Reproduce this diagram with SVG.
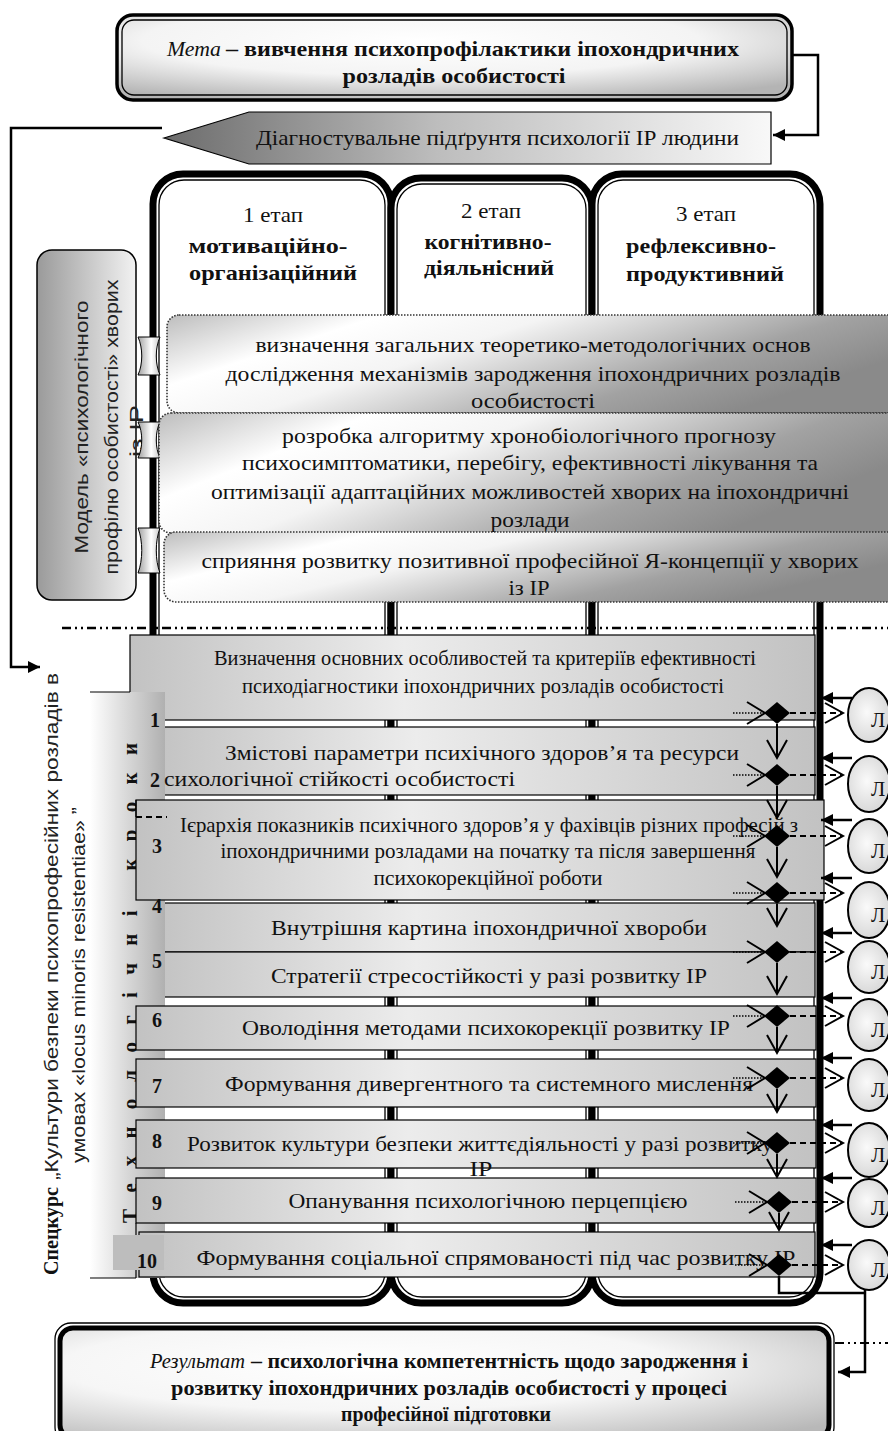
<svg xmlns="http://www.w3.org/2000/svg" width="888" height="1431" viewBox="0 0 888 1431">
<defs>
<style>
.t{font-family:"Liberation Serif","Times New Roman",serif;font-size:21px;fill:#111}
.b{font-weight:bold}
.i{font-style:italic}
.c{text-anchor:middle}
.s{font-family:"Liberation Sans",Arial,sans-serif;font-size:19px;fill:#222}
.num{font-family:"Liberation Serif","Times New Roman",serif;font-weight:bold;font-size:20px;fill:#111}
.ln{stroke:#000;stroke-width:2.5;fill:none}
.thin{stroke:#000;stroke-width:1.2;fill:none}
.dash{stroke:#000;stroke-width:2;stroke-dasharray:6 4;fill:none}
.dot{stroke:#000;stroke-width:1.6;stroke-dasharray:1.5 1.5;fill:none}
.open{stroke:#000;stroke-width:2;fill:none}
.dia{fill:#000}
.row{fill:url(#gRow);stroke:#000;stroke-width:1.2}
.col{fill:#fff;stroke:#000;stroke-width:7}
.coli{fill:none;stroke:#000;stroke-width:1.3}
.circ{fill:url(#gCirc);stroke:#000;stroke-width:2}
.dbox{fill:url(#gBox);stroke:#333;stroke-width:1.6;stroke-dasharray:1.5 1.5}
.tab{fill:url(#gTab);stroke:#000;stroke-width:1}
</style>
<radialGradient id="gMeta" cx="0.45" cy="0.3" r="0.75">
<stop offset="0" stop-color="#ffffff"/><stop offset="0.55" stop-color="#f4f4f4"/><stop offset="1" stop-color="#b4b4b4"/>
</radialGradient>
<linearGradient id="gArrow" x1="0" y1="0" x2="1" y2="0">
<stop offset="0" stop-color="#6c6c6c"/><stop offset="0.45" stop-color="#bdbdbd"/><stop offset="1" stop-color="#f8f8f8"/>
</linearGradient>
<linearGradient id="gModel" x1="0" y1="0" x2="1" y2="0">
<stop offset="0" stop-color="#9a9a9a"/><stop offset="1" stop-color="#f2f2f2"/>
</linearGradient>
<linearGradient id="gTab" x1="0" y1="0" x2="1" y2="0">
<stop offset="0" stop-color="#a0a0a0"/><stop offset="0.6" stop-color="#ffffff"/><stop offset="1" stop-color="#c8c8c8"/>
</linearGradient>
<linearGradient id="gBox" x1="0" y1="0" x2="1" y2="0.4">
<stop offset="0" stop-color="#bdbdbd"/><stop offset="0.25" stop-color="#ffffff"/><stop offset="0.45" stop-color="#f4f4f4"/><stop offset="0.8" stop-color="#a2a2a2"/><stop offset="1" stop-color="#8a8a8a"/>
</linearGradient>
<linearGradient id="gRow" x1="0" y1="0" x2="1" y2="0">
<stop offset="0" stop-color="#c2c2c2"/><stop offset="0.4" stop-color="#ececec"/><stop offset="1" stop-color="#c2c2c2"/>
</linearGradient>
<linearGradient id="gBand" x1="0" y1="0" x2="1" y2="0">
<stop offset="0" stop-color="#ffffff"/><stop offset="1" stop-color="#b0b0b0"/>
</linearGradient>
<radialGradient id="gCirc" cx="0.45" cy="0.45" r="0.6">
<stop offset="0" stop-color="#fafafa"/><stop offset="1" stop-color="#d6d6d6"/>
</radialGradient>
<radialGradient id="gRes" cx="0.4" cy="0.35" r="0.8">
<stop offset="0" stop-color="#ffffff"/><stop offset="0.5" stop-color="#f6f6f6"/><stop offset="1" stop-color="#b8b8b8"/>
</radialGradient>
<marker id="arr" viewBox="0 0 10 10" refX="10" refY="5" markerWidth="14" markerHeight="12" markerUnits="userSpaceOnUse" orient="auto">
<path d="M0,0 L10,5 L0,10 Z" fill="#000"/>
</marker>
</defs>

<rect width="888" height="1431" fill="#fff"/>

<g id="stages">
<rect class="col" x="153" y="174" width="238" height="1129" rx="30"/>
<rect class="coli" x="159" y="180" width="226" height="1117" rx="25"/>
<rect class="col" x="391" y="178" width="201" height="1125" rx="30"/>
<rect class="coli" x="397" y="184" width="189" height="1113" rx="25"/>
<rect class="col" x="592" y="174" width="228" height="1129" rx="30"/>
<rect class="coli" x="598" y="180" width="216" height="1117" rx="25"/>
<text class="t c" x="273" y="222" textLength="60" lengthAdjust="spacingAndGlyphs">1 етап</text>
<text class="t b c" x="268" y="253" textLength="159" lengthAdjust="spacingAndGlyphs">мотиваційно-</text>
<text class="t b c" x="273" y="280" textLength="168" lengthAdjust="spacingAndGlyphs">організаційний</text>
<text class="t c" x="491" y="218" textLength="60" lengthAdjust="spacingAndGlyphs">2 етап</text>
<text class="t b c" x="488" y="249" textLength="127" lengthAdjust="spacingAndGlyphs">когнітивно-</text>
<text class="t b c" x="489" y="275" textLength="130" lengthAdjust="spacingAndGlyphs">діяльнісний</text>
<text class="t c" x="706" y="221" textLength="60" lengthAdjust="spacingAndGlyphs">3 етап</text>
<text class="t b c" x="701" y="253" textLength="150" lengthAdjust="spacingAndGlyphs">рефлексивно-</text>
<text class="t b c" x="705" y="281" textLength="158" lengthAdjust="spacingAndGlyphs">продуктивний</text>
</g>

<g id="goal">
<rect x="117" y="15" width="675" height="85" rx="16" fill="url(#gMeta)" stroke="#000" stroke-width="3.5"/>
<rect x="122" y="20" width="665" height="75" rx="12" fill="none" stroke="#000" stroke-width="1.3"/>
<text class="t i" x="167" y="56" textLength="54" lengthAdjust="spacingAndGlyphs">Мета</text>
<text class="t b" x="226" y="56" textLength="513" lengthAdjust="spacingAndGlyphs">– вивчення психопрофілактики іпохондричних</text>
<text class="t b c" x="454" y="83" textLength="223" lengthAdjust="spacingAndGlyphs">розладів особистості</text>
</g>

<g id="basis">
<polygon points="164,138 249,112 771,112 771,164 249,164" fill="url(#gArrow)" stroke="#000" stroke-width="1.2"/>
<text class="t" x="256" y="145" textLength="483" lengthAdjust="spacingAndGlyphs">Діагностувальне підґрунтя психології ІР людини</text>
</g>

<g id="model">
<rect x="37" y="250" width="99" height="350" rx="15" fill="url(#gModel)" stroke="#000" stroke-width="1.5"/>
<text class="s c" transform="translate(88,427) rotate(-90)" textLength="253" lengthAdjust="spacingAndGlyphs">Модель «психологічного</text>
<text class="s c" transform="translate(118,427) rotate(-90)" textLength="295" lengthAdjust="spacingAndGlyphs">профілю особистості» хворих</text>
<text class="s c" transform="translate(143,431) rotate(-90)" textLength="52" lengthAdjust="spacingAndGlyphs">із ІР</text>
<path class="tab" d="M138,337 H160 C155,348 155,364 160,375 H138 C143,364 143,348 138,337 Z"/>
<path class="tab" d="M138,422 H160 C155,432 155,448 160,458 H138 C143,448 143,432 138,422 Z"/>
<path class="tab" d="M138,528 H160 C155,541 155,560 160,573 H138 C143,560 143,541 138,528 Z"/>
</g>

<g id="task1">
<rect class="dbox" x="167" y="315" width="740" height="98" rx="12"/>
<text class="t c" x="533" y="352" textLength="555" lengthAdjust="spacingAndGlyphs">визначення загальних теоретико-методологічних основ</text>
<text class="t c" x="533" y="381" textLength="615" lengthAdjust="spacingAndGlyphs">дослідження механізмів зародження іпохондричних розладів</text>
<text class="t c" x="533" y="408" textLength="124" lengthAdjust="spacingAndGlyphs">особистості</text>
</g>
<g id="task2">
<rect class="dbox" x="159" y="413" width="740" height="120" rx="12"/>
<text class="t c" x="529" y="443" textLength="494" lengthAdjust="spacingAndGlyphs">розробка алгоритму хронобіологічного прогнозу</text>
<text class="t c" x="530" y="470" textLength="576" lengthAdjust="spacingAndGlyphs">психосимптоматики, перебігу, ефективності лікування та</text>
<text class="t c" x="530" y="499" textLength="638" lengthAdjust="spacingAndGlyphs">оптимізації адаптаційних можливостей хворих на іпохондричні</text>
<text class="t c" x="530" y="527" textLength="79" lengthAdjust="spacingAndGlyphs">розлади</text>
</g>
<g id="task3">
<rect class="dbox" x="164" y="532" width="740" height="70" rx="12"/>
<text class="t c" x="530" y="568" textLength="657" lengthAdjust="spacingAndGlyphs">сприяння розвитку позитивної професійної Я-концепції у хворих</text>
<text class="t c" x="529" y="595" textLength="41" lengthAdjust="spacingAndGlyphs">із ІР</text>
</g>

<g id="divider">
<line x1="62" y1="628" x2="888" y2="628" stroke="#000" stroke-width="2.5" stroke-dasharray="9 4 2 4 2 4"/>
<line x1="835" y1="1343" x2="888" y2="1343" stroke="#000" stroke-width="2" stroke-dasharray="9 4 2 4 2 4"/>
</g>

<g id="step1">
<rect class="row" x="130" y="635" width="685" height="85"/>
<text class="t c" x="485" y="665" textLength="542" lengthAdjust="spacingAndGlyphs">Визначення основних особливостей та критеріїв ефективності</text>
<text class="t c" x="483" y="693" textLength="482" lengthAdjust="spacingAndGlyphs">психодіагностики іпохондричних розладів особистості</text>
</g>
<g id="step2">
<rect class="row" x="150" y="727" width="665" height="68"/>
<text class="t c" x="482" y="760" textLength="514" lengthAdjust="spacingAndGlyphs">Змістові параметри психічного здоров’я та ресурси</text>
</g>
<g id="step4">
<rect class="row" x="150" y="903" width="665" height="49"/>
<text class="t c" x="489" y="935" textLength="436" lengthAdjust="spacingAndGlyphs">Внутрішня картина іпохондричної хвороби</text>
</g>
<g id="step5">
<rect class="row" x="150" y="952" width="665" height="45"/>
<text class="t c" x="489" y="983" textLength="436" lengthAdjust="spacingAndGlyphs">Стратегії стресостійкості у разі розвитку ІР</text>
</g>

<g id="steps-band">
<rect x="90" y="692" width="75" height="586" fill="url(#gBand)"/>
<line class="thin" x1="90" y1="692" x2="130" y2="692"/>
<line class="thin" x1="90" y1="1278" x2="136" y2="1278"/>
<line class="thin" x1="136" y1="1223" x2="136" y2="1278"/>
<text class="t b" transform="translate(137,1223) rotate(-90)" font-size="19" textLength="480" lengthAdjust="spacing">Технологічні кроки</text>
</g>

<g id="step2b">
<text class="t" x="164" y="786" textLength="351" lengthAdjust="spacingAndGlyphs">сихологічної стійкості особистості</text>
</g>
<g id="step3">
<rect class="row" x="136" y="800" width="688" height="100"/>
<path class="thin" d="M136,800 V817"/>
<path class="dash" d="M136,817 H167" stroke-width="1.5"/>
<text class="t" x="180" y="832" textLength="618" lengthAdjust="spacingAndGlyphs">Ієрархія показників психічного здоров’я у фахівців різних професій з</text>
<text class="t c" x="488" y="858" textLength="535" lengthAdjust="spacingAndGlyphs">іпохондричними розладами на початку та після завершення</text>
<text class="t c" x="488" y="885" textLength="229" lengthAdjust="spacingAndGlyphs">психокорекційної роботи</text>
</g>
<g id="step6">
<rect class="row" x="136" y="1006" width="680" height="44"/>
<text class="t c" x="486" y="1035" textLength="488" lengthAdjust="spacingAndGlyphs">Оволодіння методами психокорекції розвитку ІР</text>
</g>
<g id="step7">
<rect class="row" x="136" y="1059" width="680" height="48"/>
<text class="t c" x="489" y="1091" textLength="528" lengthAdjust="spacingAndGlyphs">Формування дивергентного та системного мислення</text>
</g>
<g id="step8">
<rect class="row" x="136" y="1120" width="680" height="48"/>
<text class="t c" x="480" y="1151" textLength="586" lengthAdjust="spacingAndGlyphs">Розвиток культури безпеки життєдіяльності у разі розвитку</text>
<text class="t c" x="481" y="1176" textLength="23" lengthAdjust="spacingAndGlyphs">ІР</text>
</g>
<g id="step9">
<rect class="row" x="136" y="1178" width="680" height="45"/>
<text class="t c" x="488" y="1208" textLength="399" lengthAdjust="spacingAndGlyphs">Опанування психологічною перцепцією</text>
</g>
<g id="step10">
<rect class="row" x="139" y="1232" width="676" height="45"/>
<rect x="113" y="1235" width="51" height="35" fill="#bdbdbd"/>
<text class="t c" x="496" y="1265" textLength="599" lengthAdjust="spacingAndGlyphs">Формування соціальної спрямованості під час розвитку ІР</text>
</g>

<g id="step-numbers">
<text class="num" x="150" y="727">1</text>
<text class="num" x="150" y="787">2</text>
<text class="num" x="152" y="853">3</text>
<text class="num" x="152" y="913">4</text>
<text class="num" x="152" y="968">5</text>
<text class="num" x="152" y="1027">6</text>
<text class="num" x="152" y="1093">7</text>
<text class="num" x="152" y="1148">8</text>
<text class="num" x="152" y="1210">9</text>
<text class="num" x="137" y="1268">10</text>
</g>

<g id="course">
<text class="t b" transform="translate(58,1275) rotate(-90)" textLength="88" lengthAdjust="spacingAndGlyphs">Спецкурс</text>
<text class="s" transform="translate(58,1180) rotate(-90)" textLength="507" lengthAdjust="spacingAndGlyphs">„Культури безпеки психопрофесійних розладів в</text>
<text class="s" transform="translate(85,1163) rotate(-90)" textLength="356" lengthAdjust="spacingAndGlyphs">умовах «locus minoris resistentiae» ”</text>
</g>

<g id="learners">
<ellipse class="circ" cx="869" cy="715" rx="21" ry="27"/>
<ellipse class="circ" cx="869" cy="784" rx="21" ry="28"/>
<ellipse class="circ" cx="869" cy="846" rx="21" ry="27"/>
<ellipse class="circ" cx="869" cy="910" rx="21" ry="28"/>
<ellipse class="circ" cx="869" cy="967" rx="21" ry="26"/>
<ellipse class="circ" cx="869" cy="1025" rx="21" ry="26"/>
<ellipse class="circ" cx="869" cy="1085" rx="21" ry="26"/>
<ellipse class="circ" cx="869" cy="1150" rx="21" ry="27"/>
<ellipse class="circ" cx="869" cy="1203" rx="21" ry="24"/>
<ellipse class="circ" cx="869" cy="1265" rx="21" ry="25"/>
<g class="t">
<text x="871" y="727">Л</text>
<text x="871" y="796">Л</text>
<text x="871" y="858">Л</text>
<text x="871" y="922">Л</text>
<text x="871" y="979">Л</text>
<text x="871" y="1037">Л</text>
<text x="871" y="1097">Л</text>
<text x="871" y="1162">Л</text>
<text x="871" y="1215">Л</text>
<text x="871" y="1277">Л</text>
</g>
</g>

<g id="connectors">
<path class="ln" d="M793,55 H818 V135 H773" marker-end="url(#arr)"/>
<path class="ln" d="M162,128 H11 V667 H40" marker-end="url(#arr)"/>
<path class="ln" d="M779,1276 V1293 H864"/>
<path class="ln" d="M865,1290 V1372 H838" marker-end="url(#arr)"/>
<g id="flow">
<path class="dot" d="M733,713 H764"/><polyline class="open" points="747,702 765,713 747,724"/><polygon class="dia" points="777,702 790,713 777,724 764,713"/><path class="dash" d="M790,713 H842"/><polyline class="open" points="825,703 843,713 825,723"/><path class="open" d="M777,724 V757"/><polyline class="open" points="767,740 777,758 787,740"/>
<path class="dot" d="M733,775 H764"/><polyline class="open" points="747,764 765,775 747,786"/><polygon class="dia" points="777,764 790,775 777,786 764,775"/><path class="dash" d="M790,775 H842"/><polyline class="open" points="825,765 843,775 825,785"/><path class="open" d="M777,786 V817"/><polyline class="open" points="767,800 777,818 787,800"/>
<path class="dot" d="M733,836 H764"/><polyline class="open" points="747,825 765,836 747,847"/><polygon class="dia" points="777,825 790,836 777,847 764,836"/><path class="dash" d="M790,836 H842"/><polyline class="open" points="825,826 843,836 825,846"/><path class="open" d="M777,847 V876"/><polyline class="open" points="767,859 777,877 787,859"/>
<path class="dot" d="M733,893 H764"/><polyline class="open" points="747,882 765,893 747,904"/><polygon class="dia" points="777,882 790,893 777,904 764,893"/><path class="dash" d="M790,893 H842"/><polyline class="open" points="825,883 843,893 825,903"/><path class="open" d="M777,904 V925"/><polyline class="open" points="767,908 777,926 787,908"/>
<path class="dot" d="M733,952 H764"/><polyline class="open" points="747,941 765,952 747,963"/><polygon class="dia" points="777,941 790,952 777,963 764,952"/><path class="dash" d="M790,952 H842"/><polyline class="open" points="825,942 843,952 825,962"/><path class="open" d="M777,963 V993"/><polyline class="open" points="767,976 777,994 787,976"/>
<path class="dot" d="M733,1016 H764"/><polyline class="open" points="747,1005 765,1016 747,1027"/><polygon class="dia" points="777,1005 790,1016 777,1027 764,1016"/><path class="dash" d="M790,1016 H842"/><polyline class="open" points="825,1006 843,1016 825,1026"/><path class="open" d="M777,1027 V1052"/><polyline class="open" points="767,1035 777,1053 787,1035"/>
<path class="dot" d="M733,1078 H764"/><polyline class="open" points="747,1067 765,1078 747,1089"/><polygon class="dia" points="777,1067 790,1078 777,1089 764,1078"/><path class="dash" d="M790,1078 H842"/><polyline class="open" points="825,1068 843,1078 825,1088"/><path class="open" d="M777,1089 V1111"/><polyline class="open" points="767,1094 777,1112 787,1094"/>
<path class="dot" d="M733,1143 H764"/><polyline class="open" points="747,1132 765,1143 747,1154"/><polygon class="dia" points="777,1132 790,1143 777,1154 764,1143"/><path class="dash" d="M790,1143 H842"/><polyline class="open" points="825,1133 843,1143 825,1153"/><path class="open" d="M777,1154 V1176"/><polyline class="open" points="767,1159 777,1177 787,1159"/>
<path class="dot" d="M735,1202 H766"/><polyline class="open" points="749,1191 767,1202 749,1213"/><polygon class="dia" points="779,1191 792,1202 779,1213 766,1202"/><path class="dash" d="M792,1202 H842"/><polyline class="open" points="825,1192 843,1202 825,1212"/><path class="open" d="M779,1213 V1229"/><polyline class="open" points="769,1212 779,1230 789,1212"/>
<path class="dot" d="M735,1265 H766"/><polyline class="open" points="749,1254 767,1265 749,1276"/><polygon class="dia" points="779,1254 792,1265 779,1276 766,1265"/><path class="dash" d="M792,1265 H842"/><polyline class="open" points="825,1255 843,1265 825,1275"/>
</g>
<g id="feedback">
<path class="ln" d="M852,698 H821" marker-end="url(#arr)"/>
<path class="ln" d="M852,758 H821" marker-end="url(#arr)"/>
<path class="ln" d="M852,820 H821" marker-end="url(#arr)"/>
<path class="ln" d="M852,878 H821" marker-end="url(#arr)"/>
<path class="ln" d="M852,933 H821" marker-end="url(#arr)"/>
<path class="ln" d="M852,998 H821" marker-end="url(#arr)"/>
<path class="ln" d="M852,1058 H821" marker-end="url(#arr)"/>
<path class="ln" d="M852,1125 H821" marker-end="url(#arr)"/>
<path class="ln" d="M852,1178 H821" marker-end="url(#arr)"/>
<path class="ln" d="M852,1245 H821" marker-end="url(#arr)"/>
</g>
</g>

<g id="result">
<rect x="55" y="1323" width="779" height="120" rx="16" fill="none" stroke="#000" stroke-width="1.3"/>
<rect x="60" y="1328" width="769" height="110" rx="13" fill="url(#gRes)" stroke="#000" stroke-width="5"/>
<text class="t i" x="150" y="1368" textLength="95" lengthAdjust="spacingAndGlyphs">Результат</text>
<text class="t b" x="251" y="1368" textLength="497" lengthAdjust="spacingAndGlyphs">– психологічна компетентність щодо зародження і</text>
<text class="t b c" x="449" y="1395" textLength="556" lengthAdjust="spacingAndGlyphs">розвитку іпохондричних розладів особистості у процесі</text>
<text class="t b c" x="446" y="1421" textLength="210" lengthAdjust="spacingAndGlyphs">професійної підготовки</text>
</g>
</svg>
